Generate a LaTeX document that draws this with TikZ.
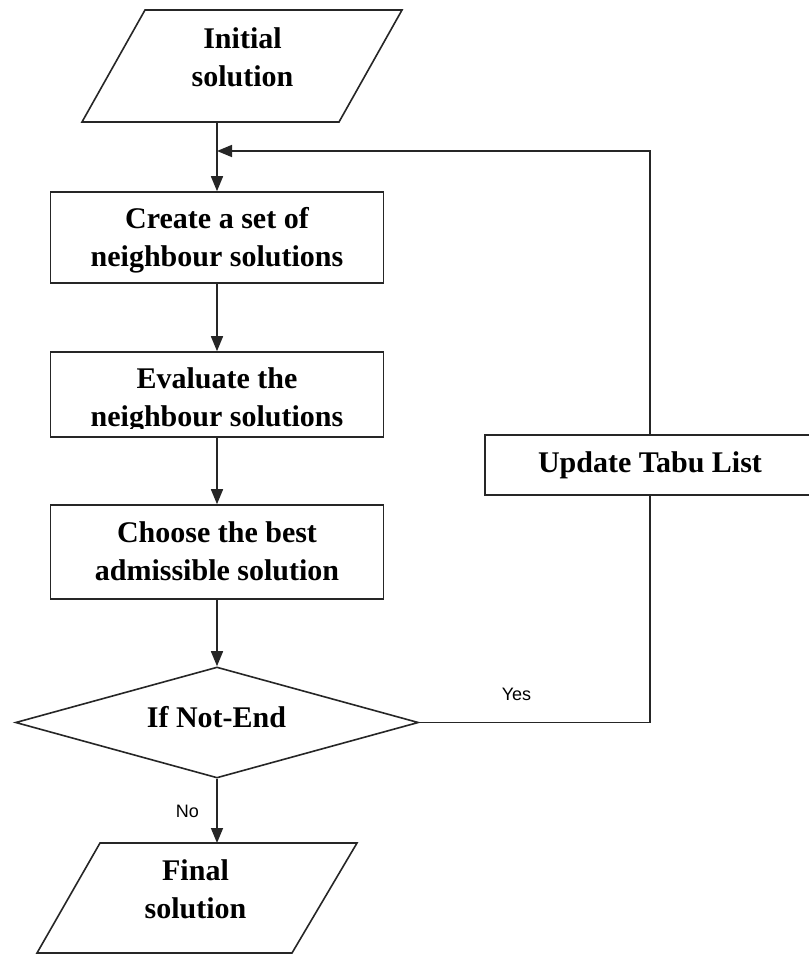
\documentclass[tikz,border=0pt]{standalone}
\usepackage{fontspec}
\setmainfont{Liberation Serif}
\newfontfamily\labelfont{Liberation Sans}
\usetikzlibrary{arrows.meta,shapes.geometric}
\begin{document}
\begin{tikzpicture}[x=1pt,y=-1pt,
  line/.style={draw=black!85, line width=1.6pt},
  flow/.style={line, -{Triangle[length=15pt,width=12pt]}},
  stepbox/.style={line, rectangle, minimum width=333pt, inner sep=0pt},
  io/.style={line, line join=miter},
  decision/.style={line, diamond, aspect=3.6, minimum width=403pt, minimum height=111pt, inner sep=0pt},
  caption/.style={font=\fontsize{30}{38}\selectfont\bfseries, align=center, inner sep=0pt},
  tag/.style={font=\labelfont\fontsize{18}{20}\selectfont, inner sep=0pt}
]
\fill[white] (0,0) rectangle (808,955);
\useasboundingbox (0,0) rectangle (808,955);

% start: input parallelogram
\draw[io] (145,10) -- (402,10) -- (339,122) -- (82,122) -- cycle;
\node[caption] (init) at (242.5,57) {Initial\\solution};
\coordinate (initout) at (217,122);
\coordinate (join) at (217,151);

% main steps
\node[stepbox, minimum height=91pt] (b1) at (217,237.5) {};
\node[caption] (b1t) at (217,240) {Create a set of\\neighbour solutions};

\node[stepbox, minimum height=85pt] (b2) at (217,394.5) {};
\begin{scope}
  \clip (40,340) rectangle (400,428);
  \node[caption] (b2t) at (217,400) {Evaluate the\\neighbour solutions};
\end{scope}

\node[stepbox, minimum height=94pt] (b3) at (217,552) {};
\node[caption] (b3t) at (217,551) {Choose the best\\admissible solution};

% stopping test
\node[decision] (dec) at (217,722.5) {};
\node[caption, anchor=base] (dect) at (216.5,727) {If Not-End};

% tabu list update
\node[stepbox, minimum width=330pt, minimum height=60pt,
      font=\fontsize{30}{38}\selectfont\bfseries] (upd) at (650,465) {Update Tabu List};

% end: output parallelogram
\draw[io] (100,843) -- (357,843) -- (292,953) -- (37,953) -- cycle;
\node[caption] (fin) at (195.5,889) {Final\\solution};
\coordinate (finin) at (217,843);

% connectors
\draw[flow] (initout) -- (initout |- b1.north);
\draw[flow] (b1.south) -- (b2.north);
\draw[flow] (b2.south) -- (b3.north);
\draw[flow] (b3.south) -- (dec.north);
\draw[line] (dec.east) -| (upd.south);
\draw[flow] (upd.north) |- (join);
\draw[flow] (dec.south) -- (finin);

% branch labels
\node[tag] (yes) at (516.5,694.5) {Yes};
\node[tag] (no) at (187.5,811) {No};
\end{tikzpicture}
\end{document}
